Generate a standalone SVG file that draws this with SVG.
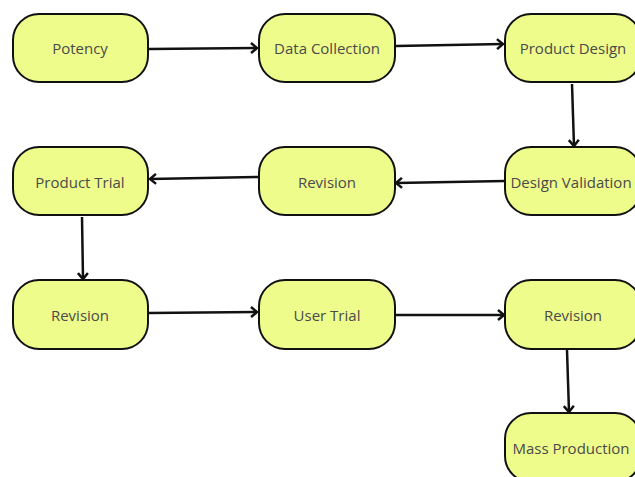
<svg xmlns="http://www.w3.org/2000/svg" width="635" height="477" viewBox="0 0 635 477">
<style>
.n rect{fill:#eefc8c;stroke:#111;stroke-width:2}
.n text{font-family:"Open Sans","Liberation Sans",sans-serif;font-size:15px;fill:#4a4a4a;text-anchor:middle;dominant-baseline:central}
.c path{fill:none;stroke:#111;stroke-width:2.5}
</style>
<defs>
<marker id="ah" markerUnits="userSpaceOnUse" markerWidth="14" markerHeight="14" refX="9" refY="7" orient="auto">
<path d="M3,2 L9,7 L3,12" fill="none" stroke="#111" stroke-width="2.5"/>
</marker>
</defs>
<rect width="635" height="477" fill="#fff"/>
<g class="c">
<path d="M149,49 L257,48" marker-end="url(#ah)"/>
<path d="M396,46 L503,44" marker-end="url(#ah)"/>
<path d="M572,84 L574,146" marker-end="url(#ah)"/>
<path d="M505,181 L396,183" marker-end="url(#ah)"/>
<path d="M259,177 L150,179" marker-end="url(#ah)"/>
<path d="M82,217 L83,279" marker-end="url(#ah)"/>
<path d="M149,313 L257,312" marker-end="url(#ah)"/>
<path d="M396,315 L504,315" marker-end="url(#ah)"/>
<path d="M567,350 L569,412" marker-end="url(#ah)"/>
</g>
<g id="potency" class="n"><rect x="13" y="14" width="135" height="68" rx="26"/><text x="80" y="48">Potency</text></g>
<g id="data-collection" class="n"><rect x="259" y="14" width="136" height="68" rx="26"/><text x="327" y="48">Data Collection</text></g>
<g id="product-design" class="n"><rect x="505" y="14" width="136" height="68" rx="26"/><text x="573" y="48">Product Design</text></g>
<g id="design-validation" class="n"><rect x="505" y="147" width="136" height="68" rx="26"/><text x="571" y="182">Design Validation</text></g>
<g id="revision-1" class="n"><rect x="259" y="147" width="136" height="68" rx="26"/><text x="327" y="182">Revision</text></g>
<g id="product-trial" class="n"><rect x="13" y="147" width="135" height="68" rx="26"/><text x="80" y="182">Product Trial</text></g>
<g id="revision-2" class="n"><rect x="13" y="280" width="135" height="69" rx="26"/><text x="80" y="315">Revision</text></g>
<g id="user-trial" class="n"><rect x="259" y="280" width="136" height="69" rx="26"/><text x="327" y="315">User Trial</text></g>
<g id="revision-3" class="n"><rect x="505" y="280" width="136" height="69" rx="26"/><text x="573" y="315">Revision</text></g>
<g id="mass-production" class="n"><rect x="505" y="413" width="136" height="69" rx="26"/><text x="571" y="448">Mass Production</text></g>
</svg>
